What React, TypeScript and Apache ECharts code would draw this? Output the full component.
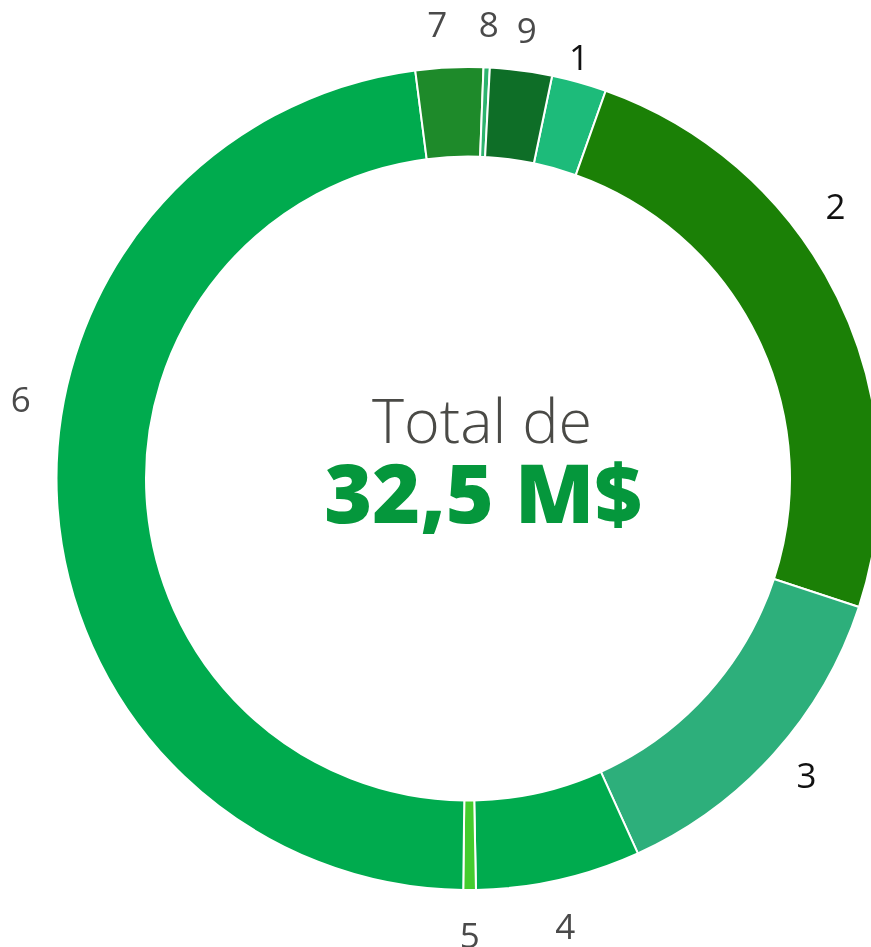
import React, { useEffect, useRef } from "react";
import * as echarts from "echarts";

const categories = ["1", "2", "3", "4", "5", "6", "7", "8", "9"];
const values = [0.7, 8.0, 4.28, 2.1, 0.16, 15.52, 0.86, 0.08, 0.79];
const colors = ["#1dbb7a", "#1b8006", "#2daf7b", "#00ab4e", "#44cc2e", "#00ab4e", "#1e8a2a", "#2db36e", "#0e6e27"];
const labelColors = ["#111111", "#111111", "#111111", "#4a4a4a", "#4a4a4a", "#4a4a4a", "#4a4a4a", "#4a4a4a", "#4a4a4a"];
const labelOffsets: number[][] = [[-12, 16], [-41, -73], [0, -8], [-3, 3], [0, 1], [7, -107], [-10, 0], [0, 0], [0, 2]];
const totalTitle = "Total de";
const totalValue = "32,5 M$";

export default function App() {
  const ref = useRef<HTMLDivElement>(null);
  useEffect(() => {
    if (!ref.current) return;
    const chart = echarts.init(ref.current, undefined, { renderer: "svg" });
    const center = [468, 478.5];
    const startAngle = 78.2;
    chart.setOption({
      animation: false,
      series: [
        {
          type: "pie",
          center,
          radius: [322, 411.5],
          startAngle,
          clockwise: true,
          label: { show: false },
          labelLine: { show: false },
          itemStyle: { borderColor: "#ffffff", borderWidth: 2 },
          emphasis: { disabled: true },
          data: categories.map((c, i) => ({ name: c, value: values[i], itemStyle: { color: colors[i] } })),
        },
        {
          type: "pie",
          center,
          radius: [440, 464],
          startAngle,
          clockwise: true,
          silent: true,
          labelLine: { show: false },
          itemStyle: { color: "transparent" },
          emphasis: { disabled: true },
          data: categories.map((c, i) => ({
            name: c,
            value: values[i],
            label: {
              show: true,
              position: "inside",
              formatter: "{b}",
              fontFamily: "Open Sans",
              fontSize: 35,
              lineHeight: 26,
              fontWeight: 400,
              color: labelColors[i],
              offset: labelOffsets[i],
            },
          })),
        },
      ],
      graphic: [
        {
          type: "text",
          x: 482,
          y: 419,
          style: {
            text: totalTitle,
            fontFamily: "Open Sans",
            fontWeight: 300,
            fontSize: 61,
            lineHeight: 46,
            fill: "#4a4a46",
            textAlign: "center",
            textVerticalAlign: "middle",
          },
        },
        {
          type: "text",
          x: 483,
          y: 491,
          style: {
            text: totalValue,
            fontFamily: "Open Sans",
            fontWeight: 800,
            fontSize: 82,
            lineHeight: 60,
            fill: "#05973c",
            textAlign: "center",
            textVerticalAlign: "middle",
          },
        },
      ],
    });
    return () => chart.dispose();
  }, []);
  return <div ref={ref} style={{ position: "fixed", left: 0, top: 0, width: 871, height: 947 }} />;
}
